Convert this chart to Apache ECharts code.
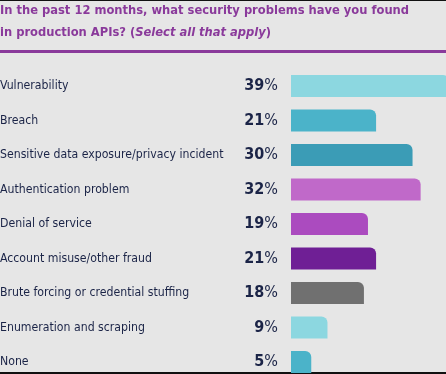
<!DOCTYPE html>
<html><head><meta charset="utf-8">
<script src="https://cdn.jsdelivr.net/npm/echarts@6/dist/echarts.min.js"></script>
<style>html,body{margin:0;padding:0;background:#e6e6e6;}#c{width:446px;height:374px;}</style>
</head><body><div id="c"></div>
<script>
const categories = ["Vulnerability","Breach","Sensitive data exposure/privacy incident","Authentication problem","Denial of service","Account misuse/other fraud","Brute forcing or credential stuffing","Enumeration and scraping","None"];
const values = [39,21,30,32,19,21,18,9,5];
const colors = ["#8cd7e0","#4bb3c9","#3b9cb6","#c069c9","#ab4bbf","#6f1f95","#707070","#8cd7e0","#4bb3c9"];
const FONT = '"Liberation Sans Narrow","DejaVu Sans Condensed",sans-serif';
const chart = echarts.init(document.getElementById('c'), null, {renderer:'canvas'});
chart.setOption({
  backgroundColor:'#e6e6e6',
  animation:false,
  title:{
    left:0, top:0, padding:0,
    text:'{a|In the past 12 months, what security problems have you found}\n{a|in production APIs? (}{i|Select all that apply}{a|)}',
    textStyle:{
      rich:{
        a:{fontFamily:FONT,fontWeight:'bold',fontSize:12.8,color:'#8a3a9b',lineHeight:22},
        i:{fontFamily:FONT,fontWeight:'bold',fontStyle:'italic',fontSize:12.8,color:'#8a3a9b',lineHeight:22}
      }
    }
  },
  graphic:[
    {type:'rect',left:0,top:0,shape:{width:446,height:1},style:{fill:'#111'}},
    {type:'rect',left:0,top:50,shape:{width:446,height:3},style:{fill:'#8a3a9b'}},
    {type:'rect',left:0,top:372,shape:{width:446,height:2},style:{fill:'#111'}}
  ],
  grid:{left:291,right:-3,top:68.75,bottom:-5.25,containLabel:false,outerBoundsMode:'none'},
  xAxis:{type:'value',min:0,max:39,show:false},
  yAxis:{type:'category',inverse:true,data:categories,
    axisLine:{show:false},axisTick:{show:false},
    axisLabel:{align:'left',margin:291,fontFamily:FONT,fontSize:12.2,color:'#1b2447'}
  },
  series:[{
    type:'bar',
    barWidth:22,
    clip:false,
    data:values.map((v,i)=>({value:v,itemStyle:{color:colors[i],borderRadius:[0,6,0,0]}})),
    label:{show:true,position:'left',distance:13,
      formatter:p=>'{n|'+p.value+'}{p|%}',
      rich:{
        n:{fontFamily:FONT,fontWeight:'bold',fontSize:16,color:'#1b2447'},
        p:{fontFamily:FONT,fontSize:16,color:'#1b2447'}
      }
    }
  }]
});
</script></body></html>
